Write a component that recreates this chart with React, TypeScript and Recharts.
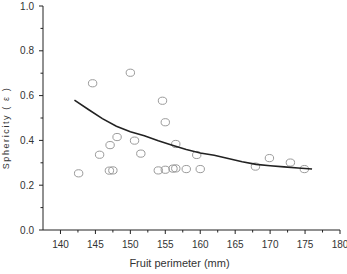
import React from 'react'
import { ScatterChart, Scatter, XAxis, YAxis } from 'recharts'

// measured fruits: perimeter (mm) vs sphericity
const perimeter = [
  142.6, 144.6, 145.6, 147.0, 147.5, 147.1, 148.1, 150.0, 150.6, 151.5, 154.6, 155.0,
  156.5, 154.0, 155.0, 156.1, 156.5, 158.0, 159.5, 160.0, 167.9, 169.9, 172.9, 174.9
]
const sphericity = [
  0.253, 0.655, 0.336, 0.265, 0.266, 0.379, 0.415, 0.702, 0.399, 0.341, 0.577, 0.481,
  0.384, 0.266, 0.269, 0.274, 0.275, 0.272, 0.335, 0.272, 0.283, 0.321, 0.301, 0.272
]

// fitted trend curve
const fitX = [142, 144, 146, 148, 150, 152, 154, 156, 158, 160, 162, 164, 166, 168, 170, 172, 174, 176]
const fitY = [
  0.58, 0.538, 0.497, 0.463, 0.439, 0.421, 0.398, 0.378, 0.359, 0.344, 0.334, 0.319,
  0.305, 0.293, 0.287, 0.282, 0.277, 0.272
]

const xTicks = [140, 142.5, 145, 147.5, 150, 152.5, 155, 157.5, 160, 162.5, 165, 167.5, 170, 172.5, 175, 177.5, 180]
const yTicks = [0, 0.1, 0.2, 0.3, 0.4, 0.5, 0.6, 0.7, 0.8, 0.9, 1.0]

const points = perimeter.map((x, i) => ({ x, y: sphericity[i] }))
const fit = fitX.map((x, i) => ({ x, y: fitY[i] }))

const axisColor = '#222'
const labelColor = '#333'
const font = 'Arial, "Liberation Sans", sans-serif'

function XTick({ x, y, payload }: any) {
  const major = payload.value % 5 === 0
  return (
    <g>
      <line x1={x} x2={x} y1={y} y2={y + (major ? 4 : 2.5)} stroke={axisColor} />
      {major && (
        <text x={x} y={y + 18} textAnchor="middle" fontSize={10} fill={labelColor} fontFamily={font}>
          {payload.value}
        </text>
      )}
    </g>
  )
}

function YTick({ x, y, payload }: any) {
  const v = Math.round(payload.value * 10)
  const major = v % 2 === 0
  return (
    <g>
      <line x1={x - (major ? 4 : 2.5)} x2={x} y1={y} y2={y} stroke={axisColor} />
      {major && (
        <text x={x - 9} y={y + 3.5} textAnchor="end" fontSize={10} fill={labelColor} fontFamily={font}>
          {(v / 10).toFixed(1)}
        </text>
      )}
    </g>
  )
}

function Ring({ cx, cy }: any) {
  return <ellipse cx={cx} cy={cy} rx={4.2} ry={3.6} fill="none" stroke="#9a9a9a" strokeWidth={1} />
}

export default function App() {
  return (
    <div style={{ position: 'absolute', left: 0, top: 0, background: '#fff' }}>
      <ScatterChart width={347} height={274} margin={{ top: 6, right: 7, bottom: 0, left: 0 }}>
        <XAxis
          type="number"
          dataKey="x"
          domain={[137.5, 180]}
          ticks={xTicks}
          interval={0}
          height={44}
          tickLine={false}
          tickSize={0}
          tickMargin={0}
          tick={<XTick />}
          axisLine={{ stroke: axisColor }}
          allowDataOverflow
          label={{
            value: 'Fruit perimeter (mm)',
            position: 'insideBottom',
            offset: 7,
            dx: -12,
            fontSize: 11,
            fill: labelColor,
            fontFamily: font
          }}
        />
        <YAxis
          type="number"
          dataKey="y"
          domain={[0, 1]}
          ticks={yTicks}
          interval={0}
          width={43}
          tickLine={false}
          tickSize={0}
          tickMargin={0}
          tick={<YTick />}
          axisLine={{ stroke: axisColor }}
          label={{
            content: () => (
              <text
                x={8.5}
                y={128}
                transform="rotate(-90 8.5 128)"
                textAnchor="middle"
                fontSize={9}
                letterSpacing={1.6}
                fill={labelColor}
                fontFamily={font}
              >
                Sphericity ( ε )
              </text>
            )
          }}
        />
        <Scatter data={points} shape={<Ring />} isAnimationActive={false} />
        <Scatter
          data={fit}
          shape={() => <g />}
          line={{ stroke: '#222', strokeWidth: 1.6 }}
          lineType="joint"
          isAnimationActive={false}
        />
      </ScatterChart>
    </div>
  )
}
